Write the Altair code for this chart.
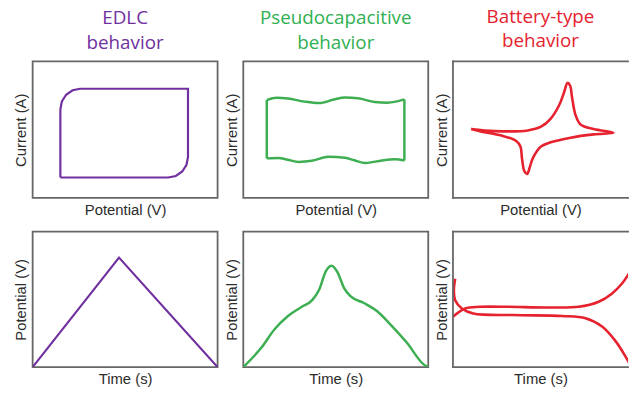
import altair as alt
import pandas as pd

# ---- Cyclic voltammetry (top row), normalised units 0-100 ----
edlc_cv_x = [15, 15, 15.8, 18.1, 21.6, 25.7, 84, 84, 83.2, 80.9, 77.4, 73.3, 15]
edlc_cv_y = [15, 65, 70.7, 75.6, 78.9, 80, 80, 30, 24.3, 19.4, 16.1, 15, 15]

pseudo_cv_top_x = [12.7, 18, 24, 33, 41, 49, 55, 62, 71, 78, 87.1]
pseudo_cv_top_y = [71.7, 73.4, 72.9, 70.6, 69.5, 72.1, 73.6, 73.1, 70.3, 69.8, 72.2]
pseudo_cv_bot_x = [12.7, 19, 24, 30, 37, 46, 55, 60, 66, 75, 82, 87.1]
pseudo_cv_bot_y = [29, 29.3, 28, 26.4, 27.2, 30.2, 29.4, 27.6, 25.6, 27.5, 28.3, 27.5]

battery_cv_x = [9.8, 22.6, 40.5, 47.6, 52.9, 57.4, 60.1, 61.9, 63.3, 64.5, 66.3, 69, 76.1, 86.8,
                76.1, 63.6, 52.9, 47.6, 43.2, 41.4, 40.1, 38.6, 37.3, 36.5, 34.2, 26.2, 15.5, 9.8]
battery_cv_y = [50.5, 49, 49.5, 52.2, 58.2, 67.9, 77.5, 84.3, 82.4, 72.7, 60.7, 53.9, 50.5, 47.8,
                46.6, 44.2, 40.8, 37.7, 29.2, 22, 17.6, 19.6, 29.2, 37.7, 41.8, 45.7, 48.6, 50.5]

# ---- Galvanostatic charge/discharge (bottom row) ----
edlc_gcd_x = [0, 46.7, 100]
edlc_gcd_y = [0, 80.8, 0]

pseudo_gcd_x = [0, 9.7, 16.8, 24, 31.2, 37.5, 41, 44.6, 47.7, 50.9, 54.5, 58.1, 65.2, 72.4, 79.6, 88.5, 97.5, 100]
pseudo_gcd_y = [0, 14.2, 27.7, 37.5, 44.1, 49.8, 57.1, 70.6, 74.8, 70.1, 58.3, 52.2, 47.3, 41.2, 31.4, 17.9, 2, 0]

battery_charge_x = [0, 6.6, 14.6, 30, 50.3, 68, 78.8, 85.9, 91.3, 95.7, 100]
battery_charge_y = [37.2, 43.3, 44.5, 44.5, 44, 44.5, 48.2, 54.2, 61.5, 70.1, 79]
battery_discharge_x = [1.2, 0.5, 1.2, 4.8, 11, 32.5, 59.2, 71.7, 80.6, 87.7, 93, 96.5]
battery_discharge_y = [65.2, 56.7, 49.4, 43.3, 39.6, 38.4, 37.7, 36, 29.9, 19.5, 8.5, 0]

PURPLE = "#7030A0"
GREEN = "#3DAE52"
GREEN_TITLE = "#2FB052"
RED = "#E5222E"
FRAME = "#666666"

W = 187
H_TOP, H_BOT = 138, 137
W3 = 177                      # right-hand column runs off the page edge
ydom = alt.Scale(domain=[0, 100], nice=False, zero=False)


def frame(*segments):
    rows = []
    for seg, (xs, ys) in enumerate(segments):
        for i, (x, y) in enumerate(zip(xs, ys)):
            rows.append({"seg": seg, "i": i, "x": x, "y": y})
    return pd.DataFrame(rows)


def head(text, color):
    return alt.TitleParams(
        text=text, color=color, font="Open Sans", fontSize=19, fontWeight="normal",
        lineHeight=25, anchor="middle", offset=9)


def curve(df, color, xtitle, ytitle, interp="linear", width=2.2, xmax=100):
    return alt.Chart(df).mark_line(
        color=color, strokeWidth=width, interpolate=interp, clip=True
    ).encode(
        x=alt.X("x:Q", scale=alt.Scale(domain=[0, xmax], nice=False, zero=False),
                axis=alt.Axis(title=xtitle)),
        y=alt.Y("y:Q", scale=ydom, axis=alt.Axis(title=ytitle)),
        detail="seg:N",
        order="i:Q",
    )


def open_right(line, h):
    # frame drawn on three sides only; the right side is cut by the page edge
    rule = alt.Chart().mark_rule(color=FRAME, strokeWidth=1.8, strokeCap="square")
    return alt.layer(
        line,
        rule.encode(y=alt.datum(100)),
        rule.encode(y=alt.datum(0)),
        rule.encode(x=alt.datum(0)),
    ).properties(width=W3, height=h, view=alt.ViewBackground(stroke=None))


xmax3 = 100 * W3 / W

p1 = curve(frame((edlc_cv_x, edlc_cv_y)), PURPLE, "Potential (V)", "Current (A)") \
    .properties(width=W, height=H_TOP, title=head(["EDLC", "behavior"], PURPLE))
p2 = curve(frame((pseudo_cv_top_x, pseudo_cv_top_y), (pseudo_cv_bot_x, pseudo_cv_bot_y),
                 ([12.7, 12.7], [29, 71.7]), ([87.1, 87.1], [27.5, 72.2])),
           GREEN, "Potential (V)", "Current (A)", interp="monotone", width=2.5) \
    .properties(width=W, height=H_TOP, title=head(["Pseudocapacitive", "behavior"], GREEN_TITLE))
p3 = open_right(curve(frame((battery_cv_x, battery_cv_y)), RED, "Potential (V)", "Current (A)",
                      interp="catmull-rom", width=2.6, xmax=xmax3), H_TOP) \
    .properties(title=head(["Battery-type", "behavior"], RED))

p4 = curve(frame((edlc_gcd_x, edlc_gcd_y)), PURPLE, "Time (s)", "Potential (V)") \
    .properties(width=W, height=H_BOT)
p5 = curve(frame((pseudo_gcd_x, pseudo_gcd_y)), GREEN, "Time (s)", "Potential (V)",
           interp="monotone", width=2.5).properties(width=W, height=H_BOT)
p6 = open_right(curve(frame((battery_charge_x, battery_charge_y),
                            (battery_discharge_x, battery_discharge_y)),
                      RED, "Time (s)", "Potential (V)", interp="catmull-rom", width=2.6,
                      xmax=xmax3), H_BOT)

chart = alt.vconcat(
    alt.hconcat(p1, p2, p3, spacing=5),
    alt.hconcat(p4, p5, p6, spacing=5),
    spacing=11,
).properties(
    padding={"left": 13, "top": 5, "right": 0, "bottom": 0},
    background="white",
).configure_view(
    stroke=FRAME, strokeWidth=1.8
).configure_axis(
    labels=False, ticks=False, domain=False, grid=False,
    titleFont="Liberation Sans", titleFontSize=15, titleFontWeight="normal",
    titleColor="#2b2b2b",
).configure_axisX(
    titlePadding=5
).configure_axisY(
    titlePadding=4
)

chart.save("out.html", embed_options={"renderer": "svg", "actions": False})
